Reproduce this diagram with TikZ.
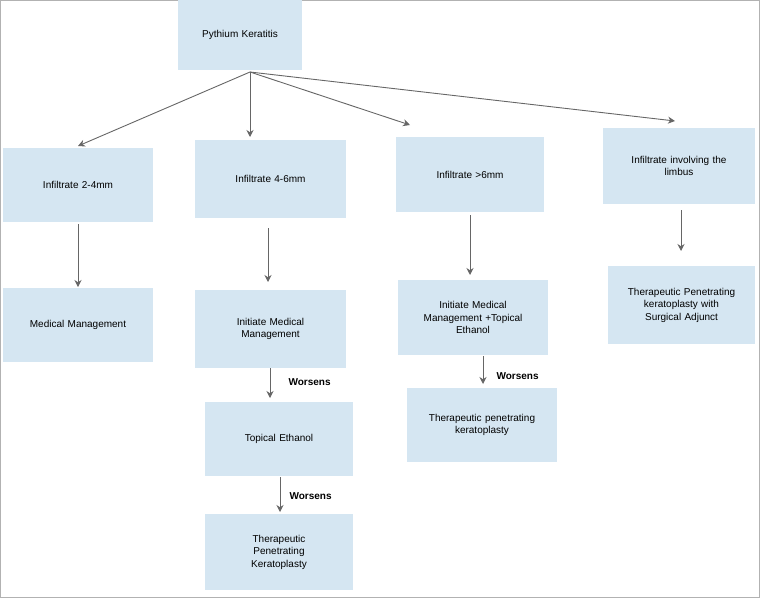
\documentclass[tikz,border=0pt]{standalone}
\usepackage{fontspec}
\setmainfont{Liberation Sans}
\usetikzlibrary{arrows.meta}
\begin{document}
\begin{tikzpicture}[x=1pt,y=-1pt,
  box/.style={fill=boxc,draw=none,inner sep=0pt,align=center,font=\fontsize{10}{12.5}\selectfont},
  arr/.style={draw=gray!80!black,line width=0.9pt,-{Stealth[length=7pt,width=7pt]}},
  lab/.style={font=\fontsize{10}{12}\selectfont\bfseries,anchor=west}]
\definecolor{boxc}{HTML}{D5E6F2}
\useasboundingbox (0,0) rectangle (760,600);
\draw[gray!60] (0.5,0.5) rectangle (759.5,597);
\newcommand{\bx}[6]{\node[box,minimum width=#4-#2,minimum height=#5-#3,text width=#4-#2-10] (#1) at ({(#2+#4)/2},{(#3+#5)/2}) {#6};}
\bx{pk}{178}{0}{302}{70}{Pythium Keratitis}
\bx{a}{3}{148}{153}{222}{Infiltrate 2-4mm}
\bx{b}{195}{140}{346}{218}{Infiltrate 4-6mm}
\bx{c}{396}{137}{544}{212}{Infiltrate >6mm}
\bx{d}{603}{128}{755}{204}{Infiltrate involving the\\limbus}
\bx{a1}{3}{288}{153}{362}{Medical Management}
\bx{b1}{195}{290}{346}{368}{Initiate Medical\\Management}
\bx{c1}{398}{280}{548}{355}{Initiate Medical\\Management +Topical\\Ethanol}
\bx{d1}{608}{266}{755}{344}{Therapeutic Penetrating\\keratoplasty with\\Surgical Adjunct}
\bx{b2}{205}{402}{353}{476}{Topical Ethanol}
\bx{c2}{407}{388}{557}{462}{Therapeutic penetrating\\keratoplasty}
\bx{b3}{205}{514}{353}{590}{Therapeutic\\Penetrating\\Keratoplasty}
\coordinate (o) at (250,72);
\draw[arr] (o) -- (78,146);
\draw[arr] (o) -- (250,137);
\draw[arr] (o) -- (410,125);
\draw[arr] (o) -- (675,121);
\draw[arr] (78,224) -- (78,287);
\draw[arr] (268,228) -- (268,282);
\draw[arr] (270,368) -- (270,398);
\draw[arr] (280,477) -- (280,512);
\draw[arr] (470,215) -- (470,275);
\draw[arr] (483,356) -- (483,384);
\draw[arr] (681,210) -- (681,251);
\node[lab] (w1) at (285,382) {Worsens};
\node[lab] (w2) at (286,496) {Worsens};
\node[lab] (w3) at (493,376) {Worsens};
\end{tikzpicture}
\end{document}
